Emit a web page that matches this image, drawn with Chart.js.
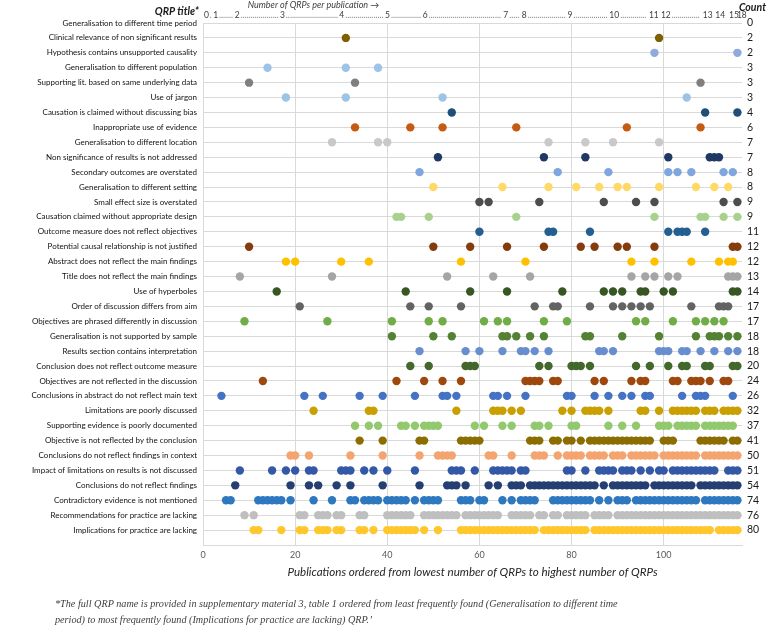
<!DOCTYPE html>
<html>
<head>
<meta charset="utf-8">
<script src="https://cdn.jsdelivr.net/npm/chart.js@4.4.1/dist/chart.umd.min.js"></script>
<style>
  body { margin: 0; background: #fff; }
  #wrap { position: relative; width: 767px; height: 627px; }
  #caption {
    position: absolute; left: 55px; top: 596px; width: 700px;
    font-family: "Liberation Serif", serif; font-style: italic; font-size: 10.2px;
    line-height: 16px; color: #404040;
  }
</style>
</head>
<body>
<div id="wrap">
  <canvas id="chart" width="767" height="627"></canvas>
  <div id="caption">*The full QRP name is provided in supplementary material 3, table 1 ordered from least frequently found (Generalisation to different time<br>period) to most frequently found (Implications for practice are lacking) QRP.&#8217;</div>
</div>
<script>
// rows, top to bottom
var qrpTitles = [
  'Generalisation to different time period',
  'Clinical relevance of non significant results',
  'Hypothesis contains unsupported causality',
  'Generalisation to different population',
  'Supporting lit. based on same underlying data',
  'Use of jargon',
  'Causation is claimed without discussing bias',
  'Inappropriate use of evidence',
  'Generalisation to different location',
  'Non significance of results is not addressed',
  'Secondary outcomes are overstated',
  'Generalisation to different setting',
  'Small effect size is overstated',
  'Causation claimed without appropriate design',
  'Outcome measure does not reflect objectives',
  'Potential causal relationship is not justified',
  'Abstract does not reflect the main findings',
  'Title does not reflect the main findings',
  'Use of hyperboles',
  'Order of discussion differs from aim',
  'Objectives are phrased differently in discussion',
  'Generalisation is not supported by sample',
  'Results section contains interpretation',
  'Conclusion does not reflect outcome measure',
  'Objectives are not reflected in the discussion',
  'Conclusions in abstract do not reflect main text',
  'Limitations are poorly discussed',
  'Supporting evidence is poorly documented',
  'Objective is not reflected by the conclusion',
  'Conclusions do not reflect findings in context',
  'Impact of limitations on results is not discussed',
  'Conclusions do not reflect findings',
  'Contradictory evidence is not mentioned',
  'Recommendations for practice are lacking',
  'Implications for practice are lacking'
];
var qrpCounts = [0, 2, 2, 3, 3, 3, 4, 6, 7, 7, 8, 8, 9, 9, 11, 12, 12, 13, 14, 17, 17, 18, 18, 20, 24, 26, 32, 37, 41, 50, 51, 54, 74, 76, 80];

// publication numbers (1..116) where each QRP was found
var publications = [
  [],
  [31, 99],
  [98, 116],
  [14, 31, 38],
  [10, 33, 108],
  [18, 31, 52, 105],
  [54, 109, 116],
  [33, 45, 52, 68, 92, 108],
  [28, 38, 40, 75, 83, 89, 99],
  [51, 74, 83, 101, 110, 111, 112],
  [47, 77, 88, 101, 103, 106, 113, 115],
  [50, 65, 75, 81, 86, 90, 92, 99, 107, 111, 114],
  [60, 62, 73, 87, 94, 98, 113, 116],
  [42, 43, 49, 68, 98, 108, 109, 113, 116],
  [60, 75, 76, 84, 101, 103, 104, 105, 109],
  [10, 50, 58, 66, 74, 82, 85, 90, 92, 98, 115, 116],
  [18, 20, 30, 36, 56, 70, 93, 98, 106, 112, 114, 115],
  [8, 28, 53, 63, 71, 93, 96, 98, 101, 103, 114, 115, 116],
  [16, 44, 58, 66, 78, 87, 89, 91, 95, 96, 100, 102, 115, 116],
  [21, 45, 49, 56, 72, 76, 77, 84, 89, 91, 93, 95, 97, 106, 112, 113, 114],
  [9, 27, 41, 49, 52, 61, 64, 66, 74, 79, 94, 96, 102, 107, 109, 111, 113],
  [41, 50, 54, 65, 66, 68, 71, 74, 83, 84, 91, 99, 107, 110, 111, 112, 114, 116],
  [47, 57, 60, 65, 69, 70, 72, 75, 86, 87, 89, 99, 100, 101, 104, 105, 108, 111, 114, 116],
  [45, 49, 57, 58, 59, 73, 75, 80, 81, 82, 84, 94, 97, 101, 104, 105, 109, 110, 115, 116],
  [13, 42, 48, 52, 56, 70, 71, 72, 73, 76, 77, 85, 87, 93, 95, 96, 102, 103, 106, 107, 108, 110, 113, 114],
  [4, 22, 26, 34, 39, 46, 52, 53, 55, 63, 64, 66, 70, 79, 80, 85, 88, 91, 93, 96, 97, 104, 107, 108, 109, 115],
  [24, 36, 37, 55, 63, 64, 65, 67, 69, 78, 80, 83, 84, 85, 86, 88, 95, 96, 99, 102, 103, 104, 105, 106, 107, 109, 110, 111, 113, 114, 115, 116],
  [33, 36, 38, 43, 44, 46, 48, 49, 50, 51, 59, 61, 65, 67, 72, 73, 75, 80, 81, 88, 91, 94, 99, 100, 101, 103, 104, 105, 106, 107, 109, 110, 111, 112, 113, 114, 115],
  [34, 39, 47, 48, 56, 57, 58, 59, 60, 71, 72, 73, 76, 77, 79, 80, 82, 84, 85, 86, 87, 88, 89, 90, 91, 92, 93, 94, 95, 96, 97, 100, 101, 102, 108, 109, 110, 111, 112, 113, 115, 116],
  [19, 20, 23, 32, 39, 47, 51, 52, 53, 54, 62, 63, 67, 72, 73, 74, 77, 79, 80, 81, 82, 84, 85, 86, 87, 89, 90, 91, 93, 94, 95, 96, 97, 98, 100, 101, 102, 103, 104, 105, 106, 107, 109, 110, 111, 112, 113, 114, 115, 116],
  [8, 15, 18, 20, 23, 24, 30, 31, 32, 35, 37, 40, 46, 54, 55, 56, 59, 63, 64, 65, 66, 67, 69, 70, 79, 80, 83, 86, 87, 88, 89, 91, 92, 93, 95, 97, 99, 100, 102, 103, 104, 105, 106, 107, 108, 109, 110, 111, 114, 115, 116],
  [7, 19, 23, 25, 29, 32, 39, 47, 53, 54, 55, 57, 62, 64, 67, 68, 69, 71, 72, 73, 74, 75, 76, 77, 78, 79, 80, 81, 82, 83, 84, 85, 87, 89, 90, 91, 92, 93, 94, 95, 96, 98, 99, 100, 101, 102, 103, 104, 105, 106, 108, 109, 110, 111, 112, 113, 114, 115, 116],
  [5, 6, 12, 13, 14, 15, 16, 17, 19, 24, 28, 32, 33, 35, 36, 37, 38, 40, 41, 42, 43, 44, 46, 48, 49, 50, 51, 56, 57, 58, 60, 61, 65, 67, 69, 70, 71, 72, 76, 77, 78, 79, 80, 81, 82, 83, 84, 86, 88, 90, 91, 92, 94, 95, 96, 97, 98, 99, 100, 101, 102, 103, 104, 105, 106, 107, 109, 110, 111, 112, 113, 114, 115, 116],
  [9, 11, 21, 22, 25, 26, 27, 29, 30, 34, 35, 40, 41, 42, 43, 44, 45, 48, 49, 50, 51, 52, 53, 54, 55, 57, 58, 59, 60, 61, 62, 63, 64, 67, 68, 69, 70, 71, 73, 74, 76, 77, 79, 80, 81, 82, 83, 85, 86, 87, 88, 90, 91, 92, 93, 94, 95, 96, 97, 98, 99, 100, 101, 102, 103, 104, 105, 106, 107, 108, 109, 110, 111, 112, 113, 114, 115, 116],
  [11, 12, 17, 21, 22, 25, 26, 27, 29, 30, 34, 35, 37, 40, 41, 42, 43, 44, 45, 46, 48, 51, 56, 57, 58, 59, 60, 61, 62, 63, 64, 65, 66, 67, 68, 69, 70, 71, 72, 74, 75, 76, 77, 78, 79, 80, 81, 82, 83, 85, 86, 87, 88, 89, 90, 91, 92, 93, 94, 95, 96, 97, 98, 99, 100, 101, 102, 103, 104, 105, 106, 107, 108, 109, 110, 112, 113, 114, 115, 116]
];

// top axis: number of QRPs per publication, placed at publication positions
var topLabels = ['0', '1', '2', '3', '4', '5', '6', '7', '8', '9', '10', '11', '12', '13', '14', '15', '18'];
var topLabelPos = [0.2, 2.2, 6.9, 16.7, 29.6, 39.5, 47.7, 65.2, 69.2, 79.1, 88.2, 96.8, 99.4, 108.5, 111.2, 114.2, 115.9];

var xTicks = [0, 20, 40, 60, 80, 100];

var rowColors = ['#7F7F7F', '#7F6000', '#8FAADC', '#9DC3E6', '#7F7F7F', '#9DC3E6', '#1F4E79', '#C55A11',
  '#C9C9C9', '#203864', '#7FA6DE', '#FFD966', '#4D4D4D', '#A9D18E', '#255E91', '#843C0C',
  '#FFC000', '#A5A5A5', '#375623', '#636363', '#70AD47', '#548235', '#698ED0', '#43682B',
  '#9E480E', '#4472C4', '#C9A000', '#92C96E', '#8C6D00', '#F4A46E', '#3358A6', '#253F73',
  '#2E78C0', '#BFBFBF', '#FFC72C'];

var datasets = [];
for (var r = 0; r < qrpTitles.length; r++) {
  datasets.push({
    label: qrpTitles[r],
    data: publications[r].map(function(p) { return { x: p, y: r }; }),
    backgroundColor: rowColors[r],
    borderWidth: 0,
    pointRadius: 4.2,
    pointHoverRadius: 4.2
  });
}

var gridGrey = '#D9D9D9';
var labelFont = 'Lato';

var headerText = {
  id: 'headerText',
  afterDraw: function(chart) {
    var ctx = chart.ctx, xs = chart.scales.x, area = chart.chartArea;
    ctx.save();
    ctx.textBaseline = 'middle';
    ctx.fillStyle = '#1a1a1a';
    ctx.font = 'italic bold 10.5px ' + labelFont;
    ctx.textAlign = 'right';
    ctx.fillText('QRP title*', area.left - 4, 12);
    ctx.fillText('Count', 766, 8);
    ctx.textAlign = 'left';

    ctx.fillStyle = '#404040';
    ctx.font = 'italic 9px ' + labelFont;
    ctx.fillText('Number of QRPs per publication \u2192', xs.getPixelForValue(9.7), 5);

    ctx.font = '8.5px ' + labelFont;
    var dotW = ctx.measureText('.').width;
    for (var i = 0; i < topLabels.length; i++) {
      var px = xs.getPixelForValue(topLabelPos[i]);
      ctx.fillStyle = '#404040';
      ctx.fillText(topLabels[i], px, 15);
      if (i < topLabels.length - 1) {
        var start = px + ctx.measureText(topLabels[i]).width + 1;
        var end = xs.getPixelForValue(topLabelPos[i + 1]) - 1;
        var n = Math.floor((end - start) / dotW);
        ctx.fillStyle = '#808080';
        if (n > 0) ctx.fillText('.'.repeat(n), start, 15);
      }
    }
    ctx.restore();
  }
};

var myChart = new Chart(document.getElementById('chart').getContext('2d'), {
  type: 'scatter',
  data: { datasets: datasets },
  plugins: [headerText],
  options: {
    responsive: false,
    animation: false,
    layout: { padding: { top: 23, bottom: 44, left: 0, right: 0 } },
    plugins: { legend: { display: false }, tooltip: { enabled: false } },
    scales: {
      x: {
        type: 'linear', min: 0, max: 117,
        afterBuildTicks: function(s) { s.ticks = xTicks.map(function(v) { return { value: v }; }); },
        afterFit: function(s) { s.height = 38; },
        grid: { color: gridGrey, drawTicks: false },
        border: { color: gridGrey },
        ticks: { color: '#595959', font: { family: labelFont, size: 9 }, padding: 5 },
        title: {
          display: true,
          text: 'Publications ordered from lowest number of QRPs to highest number of QRPs',
          color: '#262626',
          font: { family: labelFont, size: 11.6, style: 'italic' },
          padding: { top: 2, bottom: 4 }
        }
      },
      y: {
        type: 'linear', reverse: true, min: 0, max: 35, position: 'left',
        afterBuildTicks: function(s) {
          var t = [];
          for (var i = 0; i <= 35; i++) t.push({ value: i });
          s.ticks = t;
        },
        afterFit: function(s) { s.width = 203; },
        grid: { color: gridGrey, drawTicks: false },
        border: { color: gridGrey },
        ticks: {
          autoSkip: false, padding: 6, color: '#111111',
          font: { family: labelFont, size: 8 },
          callback: function(v) { return qrpTitles[v] || ''; }
        }
      },
      y2: {
        type: 'linear', reverse: true, min: 0, max: 35, position: 'right',
        afterBuildTicks: function(s) {
          var t = [];
          for (var i = 0; i < 35; i++) t.push({ value: i });
          s.ticks = t;
        },
        afterFit: function(s) { s.width = 25; },
        grid: { display: false, drawTicks: false },
        border: { display: false },
        ticks: {
          autoSkip: false, padding: 5, color: '#1a1a1a',
          font: { family: labelFont, size: 10.5 },
          callback: function(v) { return qrpCounts[v] === undefined ? '' : String(qrpCounts[v]); }
        }
      }
    }
  }
});
</script>
</body>
</html>
